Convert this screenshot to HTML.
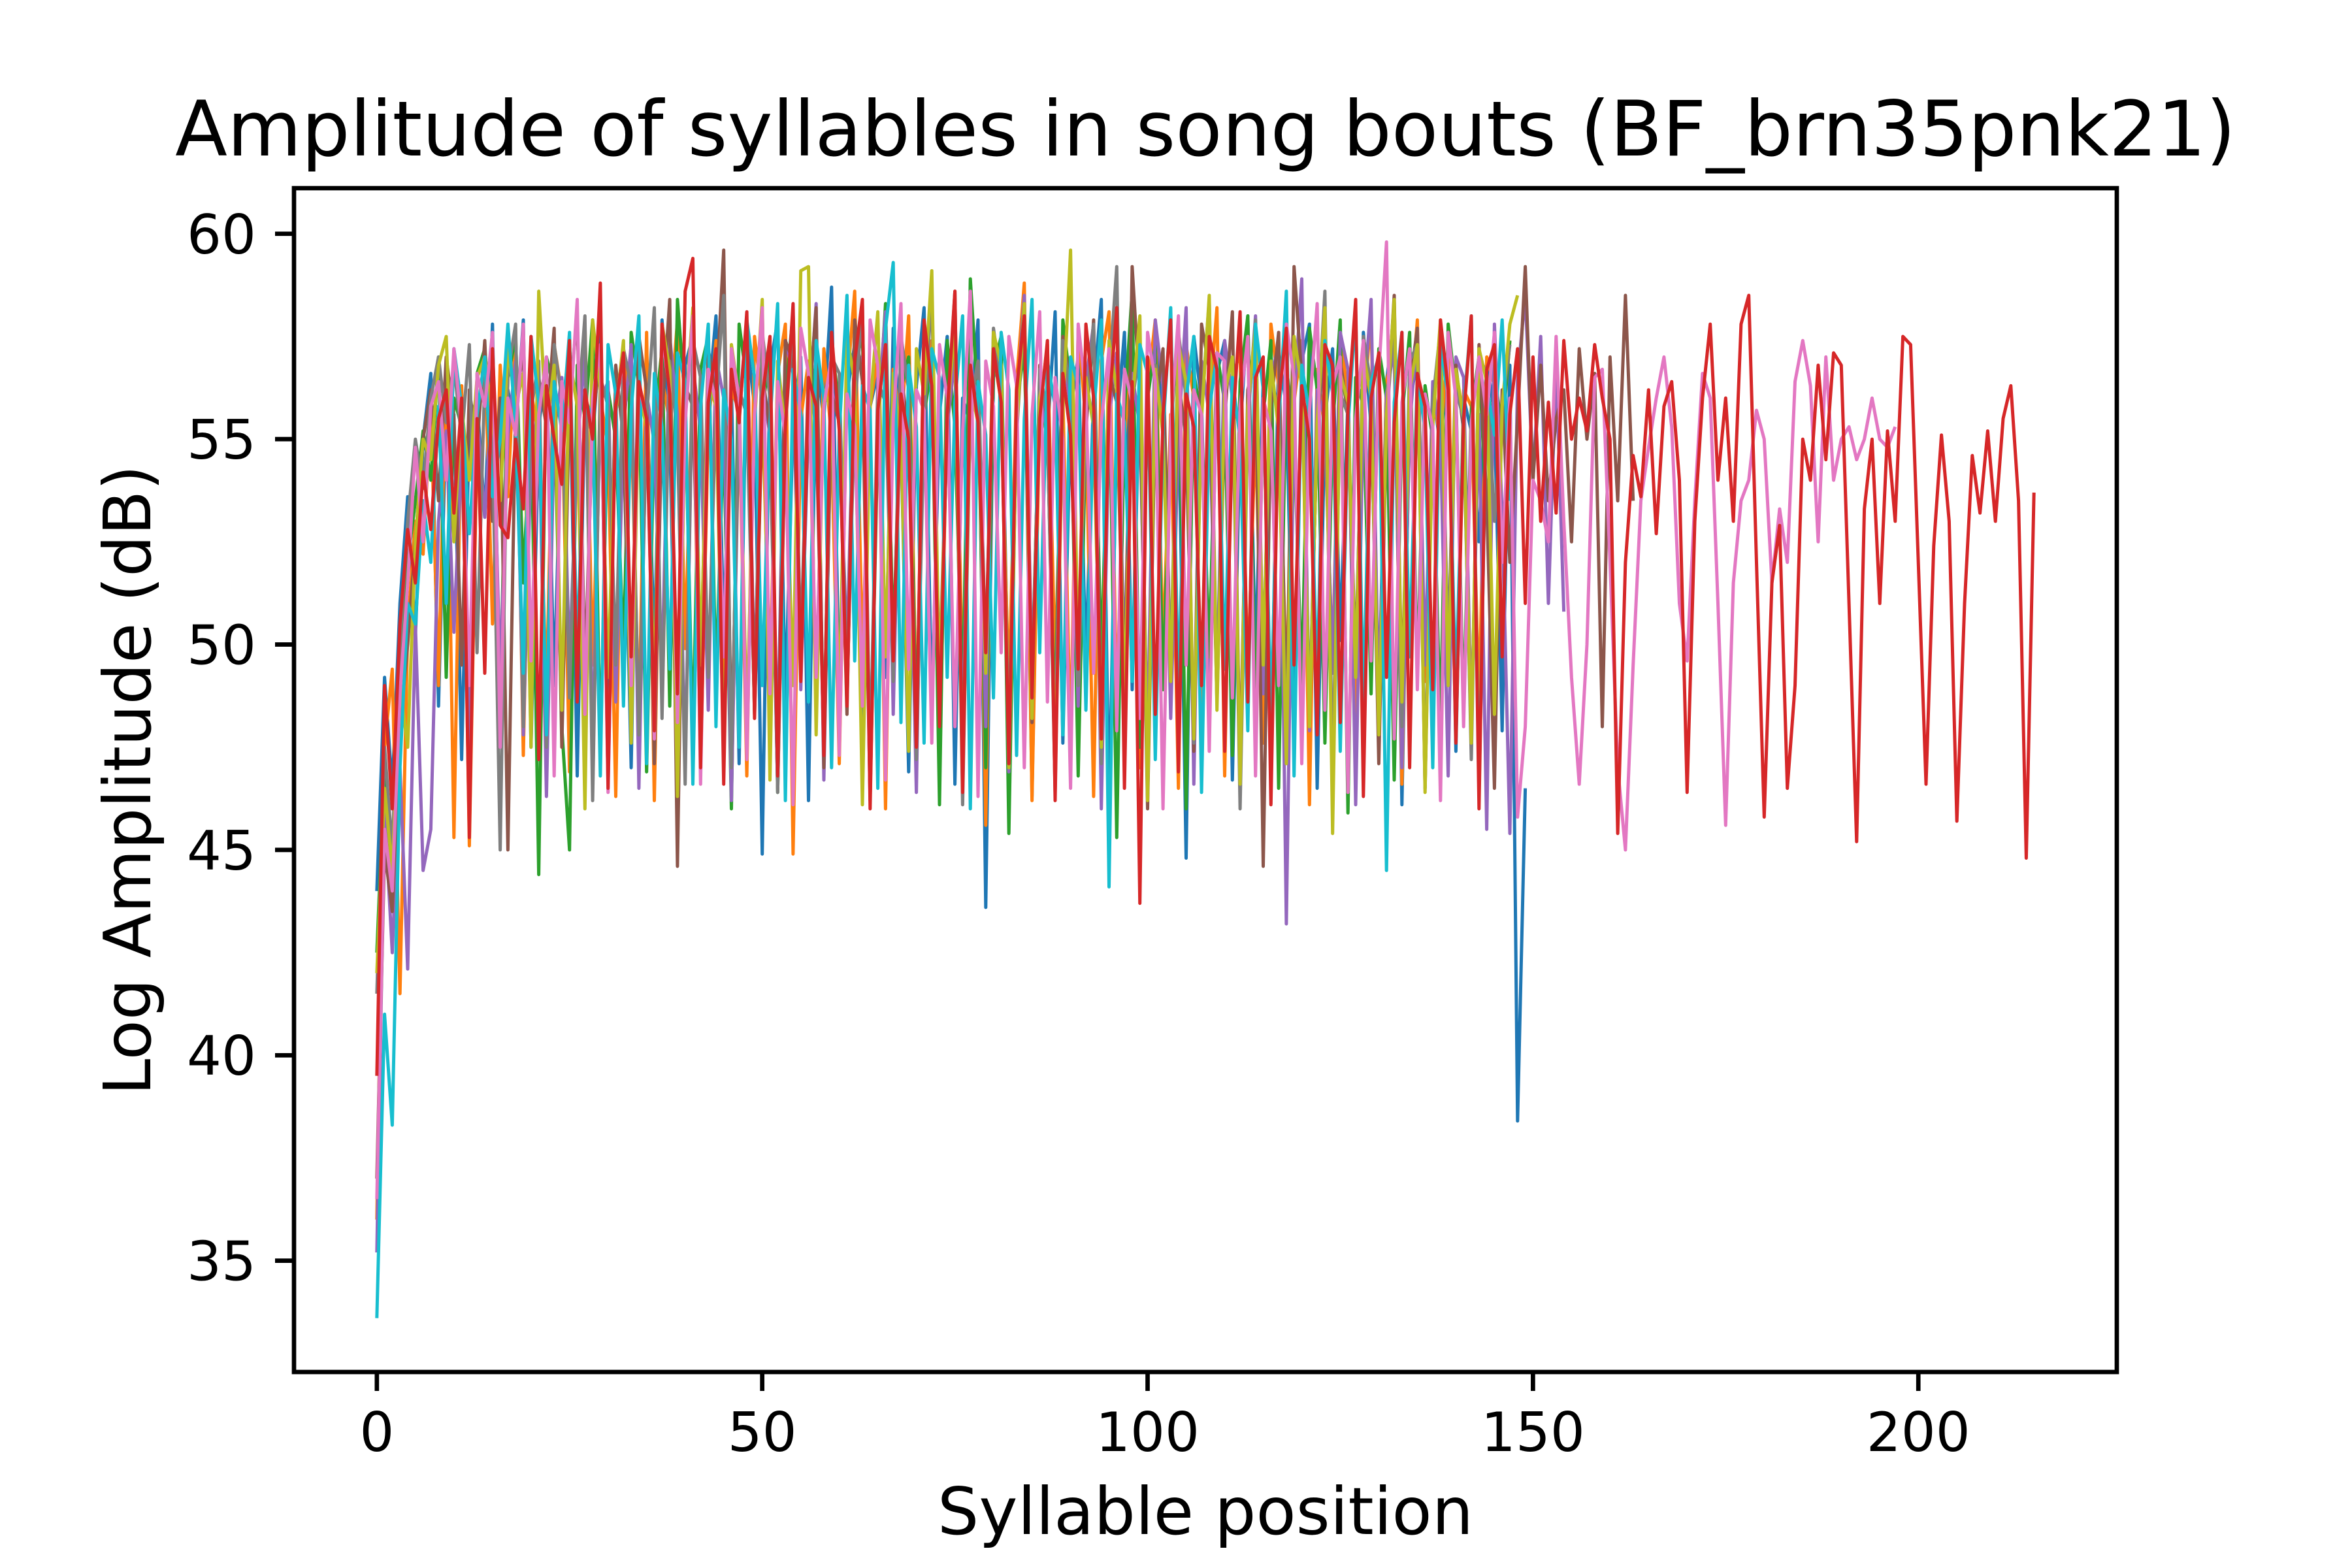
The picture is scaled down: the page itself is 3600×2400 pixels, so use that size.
<!DOCTYPE html>
<html><head><meta charset="utf-8">
<style>
html,body{margin:0;padding:0;background:#fff;}
svg{display:block;}
text{font-family:"DejaVu Sans","Liberation Sans",sans-serif;fill:#000;}
</style></head>
<body>
<svg id="chart" width="3600" height="2400" viewBox="0 0 3600 2400" xmlns="http://www.w3.org/2000/svg">
<rect x="0" y="0" width="3600" height="2400" fill="#fff"/>
<text x="1845" y="238" font-size="116.7" text-anchor="middle">Amplitude of syllables in song bouts (BF_brn35pnk21)</text>
<g id="plot"></g>
<g id="axes"></g>
<text x="1845" y="2348" font-size="100" text-anchor="middle">Syllable position</text>
<text transform="translate(230,1194) rotate(-90)" font-size="100" text-anchor="middle">Log Amplitude (dB)</text>
</svg>
<script>
const xTicks = [0, 50, 100, 150, 200];
const yTicks = [35, 40, 45, 50, 55, 60];
const seriesColors = ["#1f77b4","#ff7f0e","#2ca02c","#d62728","#9467bd","#8c564b","#e377c2","#7f7f7f","#bcbd22","#17becf"];
const boutBlue = [44.0,49.2,46.5,51.0,53.6,50.2,55.0,56.6,48.5,55.8,
55.6,47.2,55.4,56.0,53.1,57.8,48.0,56.2,55.1,57.9,
47.5,55.3,56.8,49.0,55.7,57.2,46.8,56.1,55.0,57.6,
48.2,56.4,55.3,47.0,57.1,56.5,49.8,57.9,55.2,46.4,
56.8,57.5,47.9,55.9,58.0,50.3,56.3,47.1,57.4,55.8,
44.9,56.7,57.9,48.6,55.4,57.0,46.2,56.9,55.5,58.7,
48.8,56.1,57.3,47.4,55.8,56.6,49.2,57.7,55.0,46.9,
56.3,58.2,48.4,55.6,57.5,46.6,56.0,55.4,57.9,43.6,
56.5,57.2,48.1,55.9,57.8,46.3,56.4,55.1,58.1,47.6,
55.7,57.0,49.5,56.2,58.4,46.0,55.3,57.6,48.9,56.8,
47.2,57.3,55.6,49.0,56.1,44.8,57.5,55.9,48.3,56.6,
57.4,46.7,55.2,58.0,49.6,56.5,47.3,57.1,55.8,48.0,
56.9,57.8,46.5,55.5,57.2,50.1,56.0,47.8,57.6,55.3,
48.7,56.4,57.9,46.1,55.8,57.0,49.3,56.2,54.8,57.1,
47.4,56.0,55.2,52.5,56.9,55.6,47.9,56.8,38.4,46.5];
const boutOrange = [36.0,47.5,49.4,41.5,50.4,53.0,52.2,55.8,49.0,57.0,
45.3,56.3,45.1,55.0,57.3,50.5,56.8,53.6,57.7,47.3,
56.2,55.0,48.8,57.3,56.1,46.9,55.2,57.8,49.5,56.0,
54.8,46.3,57.0,55.6,48.1,57.6,46.2,56.5,55.4,57.9,
49.9,56.8,47.0,55.3,57.4,48.6,56.2,55.7,46.8,57.5,
55.9,49.3,56.6,57.8,44.9,55.5,56.9,48.4,57.2,55.0,
47.1,56.3,58.6,49.7,55.8,57.0,46.0,56.7,55.2,58.0,
48.2,55.6,57.4,46.9,56.0,57.9,49.0,55.3,56.8,45.6,
57.1,55.9,48.8,56.4,58.8,46.2,55.7,57.3,49.4,56.1,
47.5,57.7,55.4,46.3,56.9,58.1,48.6,55.0,57.5,47.0,
56.2,57.9,49.8,55.6,46.5,57.3,56.0,48.1,55.8,58.2,
46.8,56.5,57.1,49.2,55.3,47.6,57.8,56.3,48.9,55.9,
57.4,46.1,56.7,55.2,49.5,57.6,56.0,47.3,55.7,58.0,
48.3,56.4,57.2,46.6,55.5,57.9,49.1,56.1,55.0,57.3,
47.7,56.2,55.8,48.5,57.0,56.3,55.1,57.4];
const boutGreen = [42.5,47.0,44.0,49.5,52.0,53.5,55.2,54.0,57.0,49.2,
56.0,55.3,47.5,56.6,57.2,55.0,48.9,56.5,57.5,51.5,
55.8,44.4,57.0,56.2,48.0,45.0,56.8,55.5,57.9,47.2,
56.2,55.0,49.8,57.6,56.3,46.9,55.4,57.2,48.5,58.4,
55.9,47.6,56.7,57.5,49.1,55.2,46.0,57.8,56.4,48.3,
55.7,57.1,46.4,56.0,58.1,49.6,55.5,56.9,47.4,57.3,
55.8,48.7,56.5,57.7,46.3,55.1,58.3,49.9,56.2,57.0,
47.8,55.6,56.8,46.1,57.4,55.3,48.6,58.9,55.9,47.0,
56.7,57.5,45.4,55.8,57.2,49.2,56.1,55.0,48.0,57.9,
56.3,46.8,55.4,57.6,49.4,56.9,45.3,55.7,58.6,47.5,
56.0,57.3,48.9,55.2,57.8,46.0,56.6,55.5,49.7,57.1,
55.9,47.3,56.4,58.0,48.2,55.6,57.4,46.5,56.8,55.1,
49.0,57.7,56.2,47.6,55.3,57.9,45.9,56.5,55.8,48.8,
57.2,56.0,46.7,55.5,57.6,49.3,56.3,55.0,47.9,57.8,
56.1,48.4,55.7,57.0,53.0,56.6,55.2,57.4];
const boutRed = [39.5,49.0,46.0,50.5,52.8,51.5,54.2,52.8,55.5,56.2,
53.2,56.0,45.3,55.5,49.3,57.2,52.9,52.6,55.0,53.3,
57.5,47.2,56.3,55.0,53.9,57.4,48.6,56.2,55.0,58.8,
46.5,55.8,57.1,49.7,56.4,55.5,47.9,57.8,56.1,48.8,
58.6,59.4,47.0,55.9,57.2,46.6,56.7,55.4,58.1,48.2,
56.0,57.5,46.8,55.3,58.3,49.1,56.5,55.8,47.3,57.6,
55.2,48.5,56.9,58.4,46.0,55.7,57.3,49.6,56.1,55.0,
47.5,57.9,56.3,48.0,55.6,58.6,46.4,56.8,55.4,49.8,
57.2,55.9,47.1,56.2,58.0,48.7,55.5,57.4,46.2,56.6,
55.1,49.4,57.8,56.0,47.7,55.8,58.2,46.5,56.4,43.7,
57.0,48.3,55.6,57.9,46.9,56.1,55.3,49.0,57.5,56.7,
47.4,55.2,58.1,48.6,56.5,57.0,46.1,55.9,57.7,49.5,
56.3,55.0,47.8,57.3,56.8,48.1,55.7,58.4,46.3,56.0,
57.1,49.2,55.4,57.6,47.0,56.6,55.8,48.9,57.9,56.2,
47.6,55.5,58.0,46.0,56.7,57.3,49.7,55.6,57.2,51.0,
57.0,53.0,55.9,53.2,57.4,55.0,56.0,55.2,57.3,56.0,
55.0,45.4,52.0,54.6,53.6,56.2,52.7,55.8,56.4,54.0,
46.4,53.0,56.0,57.8,54.0,56.0,53.0,57.8,58.5,52.0,
45.8,51.5,52.9,46.5,49.0,55.0,54.0,56.8,54.5,57.1,
56.8,51.0,45.2,53.3,55.0,51.0,55.2,53.0,57.5,57.3,
52.0,46.6,52.4,55.1,53.0,45.7,51.0,54.6,53.2,55.2,
53.0,55.5,56.3,53.5,44.8,53.7];
const boutPurple = [35.2,46.0,42.5,47.0,42.1,50.5,44.5,45.5,53.0,55.2,
50.3,54.8,47.2,55.6,53.1,56.3,49.2,55.1,56.9,47.8,
54.6,55.8,46.3,55.2,56.5,49.5,54.8,57.1,47.4,55.9,
56.4,48.6,55.3,57.3,46.5,56.1,54.9,49.3,57.5,55.6,
47.0,56.8,55.2,48.4,57.0,56.0,46.2,55.7,57.9,49.0,
56.3,55.1,47.6,57.4,56.6,48.9,55.5,58.3,46.7,56.2,
55.4,49.8,57.2,56.9,47.1,55.6,58.1,48.3,56.5,55.0,
46.4,57.7,56.1,49.4,55.3,57.0,47.5,56.8,55.9,48.0,
57.6,56.2,46.9,55.8,58.5,49.1,56.0,55.2,47.3,57.3,
55.7,48.5,56.4,57.8,46.0,55.5,57.1,49.6,56.6,55.3,
47.7,57.9,56.3,48.2,55.1,58.2,46.6,56.9,55.6,49.0,
57.4,56.0,47.2,55.4,58.0,48.8,56.5,57.3,43.2,55.9,
58.9,47.9,56.2,55.5,49.3,57.6,56.7,46.1,55.8,58.4,
48.4,56.1,57.2,47.0,55.3,57.7,49.5,56.4,55.0,46.8,
57.0,56.5,48.1,55.6,45.5,57.8,53.2,45.4,56.5,58.5,
54.0,57.5,51.0,56.8,50.8];
const boutBrown = [37.0,45.0,43.5,48.0,50.0,52.5,55.0,56.2,53.5,57.0,
55.5,49.5,56.2,54.8,57.4,53.0,56.0,45.0,55.8,57.2,
48.8,56.5,55.3,57.7,47.5,56.0,58.0,49.3,55.4,57.1,
46.6,56.8,55.0,48.2,57.5,56.2,47.1,55.6,58.4,44.6,
56.3,55.8,49.0,57.2,56.0,59.6,47.4,55.5,57.8,48.7,
56.6,55.2,46.5,57.4,56.9,49.5,55.7,58.2,47.0,56.1,
55.4,48.3,57.9,56.4,46.2,55.9,57.3,49.2,56.7,55.0,
47.6,57.6,56.2,48.9,55.3,58.6,46.8,56.5,55.8,49.4,
57.1,56.0,47.2,55.6,58.3,48.1,56.8,55.4,46.4,57.5,
56.3,49.7,55.2,57.9,47.8,56.6,55.9,48.5,59.2,56.1,
46.0,55.7,57.2,49.1,56.4,55.0,47.4,57.8,56.7,48.6,
55.5,58.1,46.7,56.2,57.0,44.6,55.8,57.6,47.9,59.2,
56.5,48.2,55.3,57.4,46.3,56.9,55.6,49.6,57.1,56.0,
47.1,55.4,58.5,48.8,56.3,57.7,46.5,55.9,57.0,49.9,
56.8,55.2,47.5,57.3,53.5,46.5,56.2,52.0,55.5,59.2,
54.0,56.8,53.5,55.5,56.2,52.5,57.2,55.0,56.6,48.0,
57.0,53.5,58.5,53.5];
const boutPink = [36.5,45.5,44.0,48.8,51.5,54.8,52.5,55.8,56.4,54.0,
57.2,55.3,49.0,56.6,55.8,57.6,47.5,56.0,55.1,57.8,
49.6,55.6,57.0,46.8,56.4,55.4,58.4,48.3,56.0,57.3,
46.4,55.8,57.0,49.0,56.3,55.5,47.7,57.5,56.2,48.1,
55.4,58.0,46.6,56.7,55.9,49.7,57.2,56.0,47.2,55.6,
58.2,48.8,56.4,55.1,46.1,57.7,56.6,49.2,55.8,57.0,
47.3,56.1,55.3,48.5,57.9,56.8,46.7,55.5,58.3,49.4,
56.2,55.7,47.6,57.3,56.0,48.0,55.2,58.6,46.3,56.9,
55.8,49.8,57.5,56.3,47.0,55.6,58.1,48.6,56.5,55.0,
46.5,57.8,56.1,49.3,55.4,57.2,47.9,56.7,55.9,48.2,
57.6,56.4,46.0,55.3,58.0,49.5,56.2,55.6,47.4,57.1,
56.9,48.7,55.8,57.5,46.8,56.0,55.2,49.0,57.8,56.5,
47.1,55.7,58.3,48.4,56.3,57.0,46.4,55.5,57.4,49.6,
56.6,59.8,47.7,55.9,57.2,48.9,56.1,55.3,46.2,57.6,
56.0,48.0,55.4,57.0,55.6,57.6,52.0,56.0,45.8,48.0,
54.0,53.5,52.5,57.5,53.0,49.2,46.6,50.0,56.5,56.7,
52.0,47.0,45.0,49.5,53.5,54.8,56.0,57.0,55.3,51.0,
49.6,53.5,56.6,56.0,51.0,45.6,51.5,53.5,54.0,55.7,
55.0,51.5,53.3,52.0,56.4,57.4,56.3,52.5,57.0,54.0,
55.0,55.3,54.5,55.0,56.0,55.0,54.8,55.3];
const boutGray = [41.5,47.5,45.0,50.0,53.0,55.0,53.8,56.0,57.0,55.4,
56.8,55.0,57.3,49.8,56.5,55.0,45.0,56.6,57.8,48.0,
55.7,56.9,47.5,57.3,56.0,48.7,55.4,58.0,46.2,56.5,
55.8,49.5,57.2,56.3,47.8,55.5,58.2,48.2,56.9,55.1,
46.6,57.4,56.5,49.2,55.9,58.5,47.0,56.2,55.6,48.4,
57.6,56.0,46.4,55.3,57.9,49.8,56.8,55.2,47.4,57.0,
56.6,48.8,55.7,58.3,46.9,56.4,55.9,49.1,57.5,56.2,
47.2,55.4,58.7,48.3,56.0,57.3,46.1,55.8,56.9,49.6,
57.7,56.3,47.8,55.1,58.1,48.6,56.7,55.5,46.7,57.4,
56.1,49.0,55.6,57.8,47.1,56.5,59.2,48.1,55.9,57.2,
46.3,56.8,55.3,49.4,57.6,56.0,47.6,55.7,58.4,48.9,
56.2,57.0,46.0,55.5,57.9,49.7,56.4,55.8,47.3,57.1,
56.7,48.4,55.2,58.6,46.6,56.1,55.6,49.3,57.5,56.3,
47.9,55.4,58.0,48.0,56.9,57.3,46.5,55.9,57.7,49.8,
56.2,55.5,47.2,57.0,56.6,53.0,55.8,57.3];
const boutOlive = [42.0,46.5,44.5,49.0,47.5,52.5,55.0,54.5,56.8,57.5,
52.5,55.8,54.0,56.5,57.0,55.5,53.5,57.2,55.8,56.6,
47.5,58.6,55.3,56.8,48.4,57.0,55.8,46.0,57.9,56.2,
49.2,55.6,57.4,47.6,56.1,55.3,48.8,57.8,56.7,46.3,
55.5,58.2,49.5,56.4,55.8,47.2,57.3,56.0,48.1,55.4,
58.4,46.7,56.9,55.2,49.0,59.1,59.2,47.8,56.2,55.7,
48.5,57.5,56.4,46.1,55.8,58.1,49.7,56.6,55.0,47.4,
57.2,56.1,59.1,48.9,55.6,57.8,46.5,56.3,55.4,49.3,
57.6,56.8,47.0,55.2,58.3,48.2,56.0,57.1,46.8,55.7,
59.6,49.6,56.5,55.3,47.5,57.4,56.2,48.7,55.9,58.0,
46.2,56.7,55.1,49.1,57.3,56.4,47.7,55.5,58.5,48.4,
56.1,57.0,46.6,55.8,57.7,49.5,56.9,55.2,47.1,57.5,
56.3,48.0,55.4,58.2,45.4,56.6,55.9,49.2,57.1,56.0,
47.8,55.6,58.4,48.6,56.2,57.3,46.4,55.3,57.9,49.0,
56.7,55.5,47.6,57.2,56.4,48.3,55.8,57.8,58.5];
const boutCyan = [33.6,41.0,38.3,47.0,51.0,50.5,53.5,52.0,55.8,51.0,
57.2,55.8,52.7,55.6,57.0,53.6,55.0,57.8,55.3,49.3,
57.5,55.9,47.8,56.4,55.2,57.6,49.7,56.0,55.5,46.8,
57.3,56.1,48.5,55.7,58.0,47.1,56.6,55.3,49.4,57.1,
56.4,46.6,55.8,57.8,48.0,56.2,55.0,47.5,57.9,56.5,
49.0,55.4,58.3,46.2,56.7,55.6,48.6,57.4,56.0,47.0,
55.2,58.5,49.6,56.3,55.7,46.5,57.7,59.3,48.1,56.8,
55.3,47.6,57.2,56.5,49.2,55.9,58.0,46.0,56.4,55.1,
48.7,57.6,56.2,47.3,55.5,58.4,49.8,56.9,55.8,47.8,
57.0,56.3,48.4,55.6,57.9,44.1,56.1,55.4,49.1,57.3,
56.6,47.2,55.2,58.2,48.8,56.0,57.5,46.4,55.7,57.1,
49.4,56.5,55.0,47.9,57.8,56.2,48.2,55.4,58.6,46.8,
56.8,55.6,49.0,57.4,56.1,47.4,55.3,58.1,48.5,56.4,
57.0,44.5,55.9,57.6,49.7,56.6,55.2,47.0,57.3,56.0,
48.9,55.7,58.0,46.3,56.3,55.1,57.9,53.5];
const bouts = [boutBlue, boutOrange, boutGreen, boutPurple, boutBrown, boutGray, boutOlive, boutCyan, boutPink, boutRed];
const boutColorIndex = [0, 1, 2, 4, 5, 7, 8, 9, 6, 3];

const NS = "http://www.w3.org/2000/svg";
const AX = {left: 450, right: 3240, top: 288, bottom: 2100};
const xMin = -10.75, xMax = 225.75, yMin = 32.29, yMax = 61.11;
function xScale(v){ return AX.left + (v - xMin) / (xMax - xMin) * (AX.right - AX.left); }
function yScale(v){ return AX.bottom - (v - yMin) / (yMax - yMin) * (AX.bottom - AX.top); }

const plot = document.getElementById('plot');
bouts.forEach(function(series, i){
  const pts = series.map(function(v, k){ return xScale(k).toFixed(1) + ',' + yScale(v).toFixed(1); }).join(' ');
  const pl = document.createElementNS(NS, 'polyline');
  pl.setAttribute('points', pts);
  pl.setAttribute('fill', 'none');
  pl.setAttribute('stroke', seriesColors[boutColorIndex[i]]);
  pl.setAttribute('stroke-width', '5');
  pl.setAttribute('stroke-linejoin', 'round');
  
  
  plot.appendChild(pl);
});

const axes = document.getElementById('axes');
const frame = document.createElementNS(NS, 'rect');
frame.setAttribute('x', AX.left); frame.setAttribute('y', AX.top);
frame.setAttribute('width', AX.right - AX.left); frame.setAttribute('height', AX.bottom - AX.top);
frame.setAttribute('fill', 'none'); frame.setAttribute('stroke', '#000'); frame.setAttribute('stroke-width', '6.7');


axes.appendChild(frame);

xTicks.forEach(function(t){
  const x = xScale(t);
  const ln = document.createElementNS(NS, 'line');
  ln.setAttribute('x1', x); ln.setAttribute('x2', x);
  ln.setAttribute('y1', AX.bottom); ln.setAttribute('y2', AX.bottom + 29);
  ln.setAttribute('stroke', '#000'); ln.setAttribute('stroke-width', '6.7');
  
  
  axes.appendChild(ln);
  const tx = document.createElementNS(NS, 'text');
  tx.setAttribute('x', x); tx.setAttribute('y', 2221);
  tx.setAttribute('font-size', '83.3'); tx.setAttribute('text-anchor', 'middle');
  tx.textContent = t;
  
  
  axes.appendChild(tx);
});
yTicks.forEach(function(t){
  const y = yScale(t);
  const ln = document.createElementNS(NS, 'line');
  ln.setAttribute('x1', AX.left - 29); ln.setAttribute('x2', AX.left);
  ln.setAttribute('y1', y); ln.setAttribute('y2', y);
  ln.setAttribute('stroke', '#000'); ln.setAttribute('stroke-width', '6.7');
  
  
  axes.appendChild(ln);
  const tx = document.createElementNS(NS, 'text');
  tx.setAttribute('x', 392); tx.setAttribute('y', y + 30);
  tx.setAttribute('font-size', '83.3'); tx.setAttribute('text-anchor', 'end');
  tx.textContent = t;
  
  
  axes.appendChild(tx);
});
</script>
</body></html>
